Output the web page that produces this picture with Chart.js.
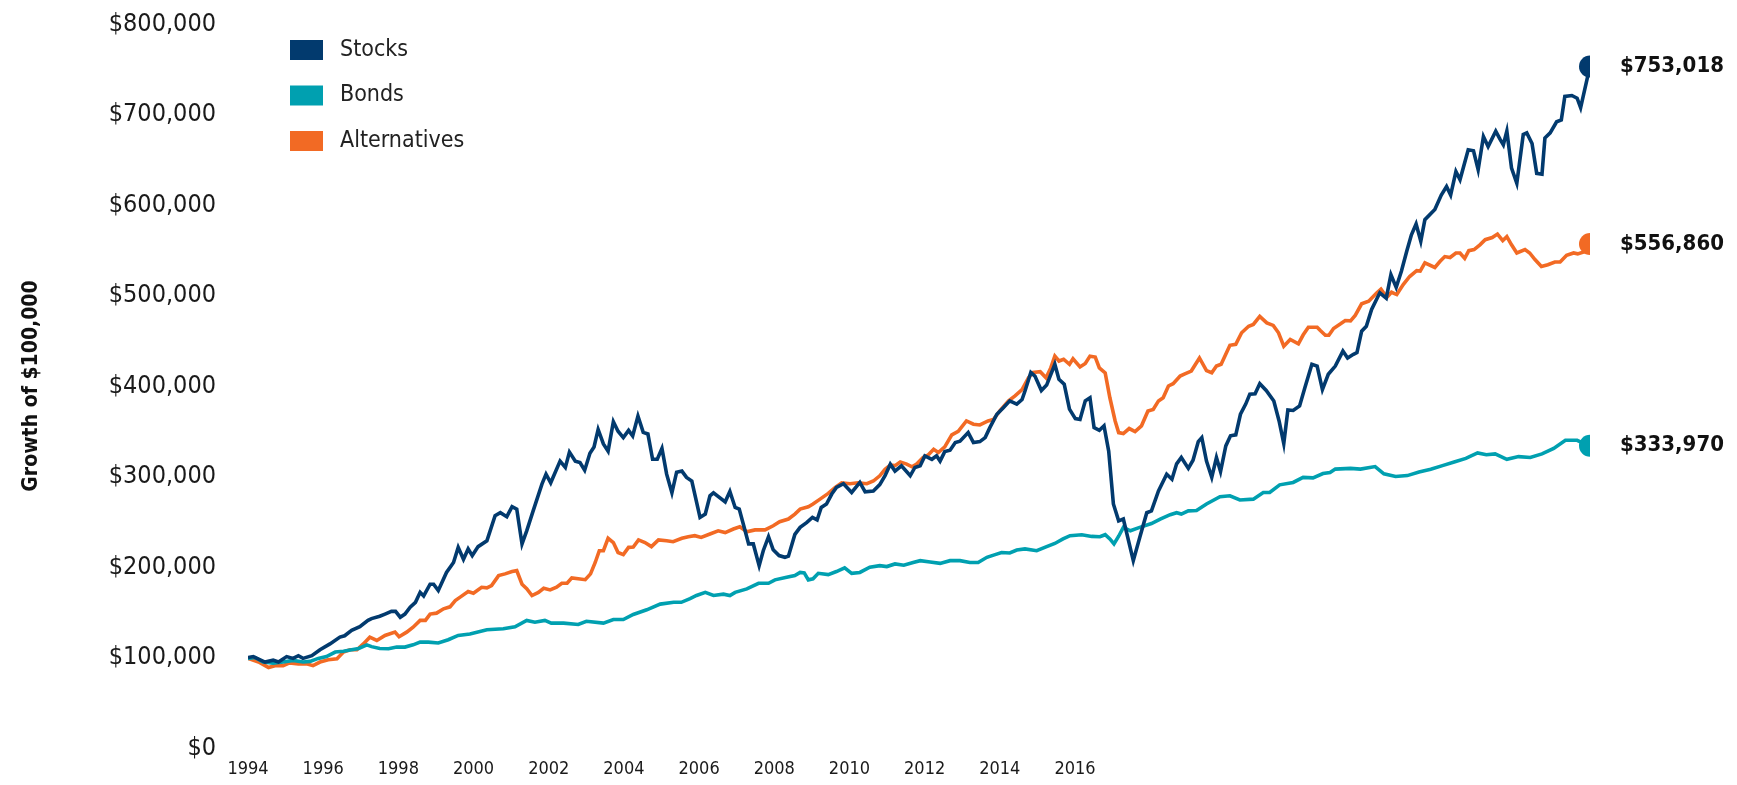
<!DOCTYPE html>
<html>
<head>
<meta charset="utf-8">
<script src="https://cdn.jsdelivr.net/npm/chart.js@4.4.0/dist/chart.umd.min.js"></script>
<style>
  html, body { margin: 0; padding: 0; background: #fff; }
</style>
</head>
<body>
<canvas id="grafico" width="1737" height="785"></canvas>
<script>
// Series names, colours and end labels
var seriesNames = ['Stocks', 'Bonds', 'Alternatives'];
var seriesColors = ['#023a6e', '#00a0b0', '#f26a24'];
var endLabels = ['$753,018', '$333,970', '$556,860'];

// Year labels shown under the chart
var tickYears = [1994, 1996, 1998, 2000, 2002, 2004, 2006, 2008, 2010, 2012, 2014, 2016];

// Stocks: time (decimal year) and growth of $100,000 (in $ thousands)
var stocksYears = [1994.00,1994.09,1994.29,1994.43,1994.52,1994.66,1994.77,1994.86,1994.94,1995.09,1995.23,1995.40,1995.57,1995.65,1995.77,1995.91,1996.05,1996.11,1996.25,1996.34,1996.45,1996.52,1996.60,1996.68,1996.77,1996.86,1996.94,1997.00,1997.11,1997.17,1997.25,1997.39,1997.51,1997.59,1997.68,1997.76,1997.83,1997.93,1998.08,1998.22,1998.31,1998.42,1998.51,1998.59,1998.68,1998.76,1998.87,1999.02,1999.09,1999.17,1999.33,1999.42,1999.49,1999.59,1999.67,1999.75,1999.84,1999.91,1999.98,2000.07,2000.15,2000.24,2000.32,2000.41,2000.50,2000.57,2000.66,2000.75,2000.83,2000.91,2000.99,2001.07,2001.15,2001.24,2001.32,2001.41,2001.49,2001.58,2001.72,2001.81,2001.89,2001.95,2002.15,2002.23,2002.32,2002.39,2002.49,2002.55,2002.63,2002.73,2002.80,2002.89,2002.97,2003.07,2003.17,2003.23,2003.34,2003.43,2003.54,2003.64,2003.72,2003.79,2003.88,2003.97,2004.05,2004.17,2004.31,2004.45,2004.54,2004.68,2004.79,2004.88,2004.97,2005.05,2005.16,2005.31,2005.39,2005.48,2005.56,2005.68,2005.76,2005.82,2005.90,2005.99,2006.08,2006.16,2006.30,2006.39,2006.50,2006.59,2006.67,2006.79,2006.90,2007.01,2007.13,2007.22,2007.27,2007.37,2007.44,2007.55,2007.64,2007.78,2007.85,2007.94,2008.03,2008.13,2008.21,2008.30,2008.38,2008.45,2008.54,2008.62,2008.70,2008.78,2008.87,2008.95,2009.12,2009.23,2009.35,2009.43,2009.55,2009.69,2009.78,2009.86,2009.94,2010.06,2010.14,2010.23,2010.29,2010.37,2010.46,2010.54,2010.61,2010.70,2010.78,2010.87,2010.95,2011.04,2011.11,2011.20,2011.28,2011.39,2011.52,2011.61,2011.69,2011.76,2011.85,2011.96,2012.05,2012.17,2012.26,2012.35,2012.45,2012.57,2012.70,2012.78,2012.88,2012.94,2013.02,2013.10,2013.19,2013.33,2013.44,2013.52,2013.61,2013.70,2013.79,2013.87,2013.95,2014.03,2014.10,2014.27,2014.38,2014.47,2014.54,2014.63,2014.70,2014.84,2014.93,2015.01,2015.10,2015.18,2015.31,2015.38,2015.44,2015.50,2015.58,2015.67,2015.78,2015.84,2015.93,2016.01,2016.10,2016.15,2016.24,2016.35,2016.43,2016.49,2016.61,2016.70,2016.76,2016.87,2016.92];
var stocksValues = [100,101,95,97,95,101,99,102,99,102,108.6,115,122.5,124,130,134,141,143,145.6,148,151,151,144.5,148,155.6,161,172,168,181,181,174,194,205,221.7,208.5,220,212.6,222.5,229,256.7,260,255.6,266.6,264,225.5,240,262,291.6,302.6,293,317,310,327,317,315.5,307,325.8,332.7,352,336,328,360.6,350,343,351,344.8,366.8,348.8,347,319,319,331,302.6,282,304.8,306,299,295,254.8,258.5,278.7,282,272,283.5,265.8,264,240,225.5,225.5,201.5,218,233.5,219,212.6,210.7,212,236,243.8,249,254.8,252,265.8,269.6,280.6,287.9,292,282.4,293.4,283,284,291,300.8,313.6,306,311.8,300.8,310,311.8,322.8,319,322.8,317,327.5,329,337.5,339,348.5,337.5,338.6,343,354,368.8,376,383.6,380,385,394.5,415,411,395,401,424,407.5,402,374.5,364,363,383.6,387,354,351,356,328,269.6,251,253,207,232.7,260,262,284,302.6,297,314,321,309,318,338.6,343,317,299,321,305.5,333.8,345,346,368.8,380,391,391.5,402.5,395,383.5,361.4,336.4,373.5,373,378,398,424,422,396,413,422,438.6,431,435,437,460.6,466,484.6,503,497,523,509,527,548.8,567,579,560,583.8,595,611,620.5,611,637,628,661,660,639,675.6,664.6,681.6,673,666.5,681.6,640.7,624,677.9,679.7,668,635,634,674,679.7,692,694,720,721,718,707.6,739,753.018];

// Bonds
var bondsYears = [1994.00,1994.12,1994.26,1994.43,1994.60,1994.77,1994.94,1995.06,1995.20,1995.34,1995.49,1995.63,1995.77,1995.89,1996.03,1996.11,1996.25,1996.40,1996.54,1996.68,1996.82,1996.94,1997.08,1997.25,1997.42,1997.59,1997.79,1998.08,1998.36,1998.56,1998.76,1998.90,1999.07,1999.18,1999.39,1999.64,1999.78,2000.07,2000.24,2000.41,2000.58,2000.81,2001.04,2001.27,2001.40,2001.55,2001.66,2001.81,2001.95,2002.12,2002.23,2002.32,2002.52,2002.72,2002.89,2003.00,2003.20,2003.34,2003.43,2003.50,2003.57,2003.65,2003.74,2003.91,2004.05,2004.19,2004.31,2004.45,2004.62,2004.79,2004.91,2005.05,2005.20,2005.36,2005.48,2005.65,2005.82,2005.99,2006.16,2006.33,2006.47,2006.62,2006.76,2006.87,2007.01,2007.13,2007.27,2007.47,2007.64,2007.78,2007.92,2008.04,2008.24,2008.41,2008.55,2008.64,2008.72,2008.79,2008.87,2008.95,2009.07,2009.23,2009.43,2009.58,2009.75,2009.86,2009.94,2010.06,2010.20,2010.37,2010.60,2010.77,2010.94,2011.17,2011.34,2011.45,2011.62,2011.85,2012.02,2012.19,2012.36,2012.48,2012.57,2012.83,2013.00,2013.25,2013.40,2013.60,2013.80,2014.00,2014.20,2014.40,2014.60,2014.80,2015.00,2015.15,2015.30,2015.50,2015.70,2015.90,2016.10,2016.30,2016.50,2016.70,2016.80,2016.92];
var bondsValues = [99,100,95,93.8,95,96.8,95,95.7,99,101,106,107,108.6,110,114,112,110,109.7,111.5,111.5,114,117,117,116,119.6,124.4,126,130.6,131.7,134,141,139,141,138,138,136.5,140,138,142,142,147.5,152.7,159,161,161,165,168.5,172,168.5,170,168.5,172,175.8,182,182,185.8,188.6,190.5,194,193.5,185.8,187,193,191.6,195,199,193,194,199.7,201.5,200.5,203.4,202,205,207,205.5,204,207,207,205,205,210.7,213.7,216,215.5,218.8,220,218,222.5,226,231,234.6,235.7,233.8,233.5,235.7,231,225.5,234,243.8,240,243.8,248,253,257.8,260,258.5,262,262.5,269.6,277.6,278.7,274,275,282.4,282.4,290.8,293.4,299,298.5,303.3,304.5,308.2,309,308.2,311,303,300,301,305,308,312,316,320,326,324,325,319,322,321,325,331,340,340,337,333.97];

// Alternatives
var altYears = [1994.00,1994.18,1994.35,1994.46,1994.60,1994.71,1994.86,1995.00,1995.11,1995.23,1995.37,1995.52,1995.63,1995.74,1995.86,1995.97,1996.08,1996.20,1996.34,1996.51,1996.58,1996.71,1996.82,1996.94,1997.03,1997.11,1997.22,1997.34,1997.45,1997.54,1997.63,1997.76,1997.85,1997.99,1998.08,1998.16,1998.28,1998.39,1998.51,1998.59,1998.68,1998.76,1998.85,1998.96,1999.05,1999.16,1999.27,1999.36,1999.45,1999.53,1999.64,1999.76,1999.85,1999.93,2000.00,2000.07,2000.15,2000.24,2000.32,2000.41,2000.50,2000.58,2000.67,2000.78,2000.89,2001.01,2001.15,2001.26,2001.41,2001.52,2001.63,2001.74,2001.89,2002.03,2002.15,2002.29,2002.40,2002.52,2002.66,2002.83,2002.97,2003.08,2003.23,2003.34,2003.43,2003.57,2003.65,2003.77,2003.91,2004.03,2004.14,2004.28,2004.42,2004.57,2004.68,2004.79,2004.88,2004.97,2005.05,2005.14,2005.25,2005.34,2005.42,2005.53,2005.62,2005.71,2005.79,2005.90,2006.02,2006.13,2006.27,2006.39,2006.50,2006.64,2006.73,2006.84,2006.99,2007.10,2007.22,2007.33,2007.41,2007.53,2007.63,2007.71,2007.78,2007.85,2007.93,2008.03,2008.09,2008.21,2008.30,2008.38,2008.47,2008.54,2008.64,2008.72,2008.81,2008.87,2008.95,2009.05,2009.15,2009.26,2009.37,2009.46,2009.55,2009.63,2009.72,2009.80,2009.92,2010.01,2010.11,2010.25,2010.37,2010.46,2010.54,2010.62,2010.77,2010.87,2010.97,2011.09,2011.17,2011.28,2011.40,2011.51,2011.60,2011.69,2011.80,2011.94,2012.02,2012.11,2012.26,2012.31,2012.40,2012.46,2012.54,2012.66,2012.74,2012.83,2012.91,2013.02,2013.14,2013.28,2013.35,2013.45,2013.53,2013.62,2013.73,2013.84,2013.96,2014.02,2014.10,2014.27,2014.36,2014.44,2014.53,2014.63,2014.70,2014.78,2014.85,2014.94,2015.04,2015.13,2015.25,2015.34,2015.43,2015.50,2015.58,2015.67,2015.81,2015.89,2015.98,2016.09,2016.20,2016.32,2016.41,2016.52,2016.64,2016.71,2016.85,2016.92];
var altValues = [99,95,89,91,91,94,93,93,91,95,97.5,98.7,106,108.6,108.6,115,122.5,118.8,124.4,128,123,128,133.5,141,141,148,149,153.8,156,163,167,173,171,177.6,177,179.5,190.5,192.4,195,196,181,176,168.5,172,176.5,174.7,177.6,182,182,188,187,186,192.4,205,218,218,231.7,227,216,213.7,221.7,222,229.9,227,222.5,230,229,228,231.7,233.5,234.6,232.7,236.5,240,238,242,244.5,239,241,241,245.6,250,253,258.5,264,266.6,269.6,275,281.3,287.9,293,292,293,292,295,300.8,308,312.6,312,316,313.7,310.7,313.7,321,324,330,326.5,332.7,346,350,361.4,357.8,357,361.4,363,372.4,383.5,389,396,409,415,415.8,409,420,433,427.6,429.6,424,430,421,424.8,433,432,420,414.4,387,361.4,348.5,347.4,353,349.6,356,372.4,374,383.5,387,400,402.5,411,413.6,416.5,431,417,414.6,422,424,445,446,458.8,466,468,477,469.8,467,458.8,444,451.5,446.6,456.3,465,465,461.5,456,456,463.6,468.7,472.4,472,478,490.8,493.7,503,507,498,503.6,501,512,521,527.5,527,536,531,537.8,543,542,547,547,541,549.6,550.7,556,561.7,564,567.9,560.6,565,556,547,550.7,547,539.7,532,534,537,537,544.4,547,546,548.8,556.86];

function pontos(anos, valores) {
    return anos.map(function(a, i) { return { x: a, y: valores[i] * 1000 }; });
}

function serie(i, anos, valores) {
    var ultimo = anos.length - 1;
    return {
        label: seriesNames[i],
        data: pontos(anos, valores),
        borderColor: seriesColors[i],
        backgroundColor: seriesColors[i],
        borderWidth: 3.6,
        tension: 0,
        pointRadius: function(c) { return c.dataIndex === ultimo ? 11 : 0; },
        pointHoverRadius: function(c) { return c.dataIndex === ultimo ? 11 : 0; },
        pointBorderWidth: 0,
        fill: false
    };
}

var fonte = '"DejaVu Sans Condensed", "Liberation Sans Narrow", "DejaVu Sans", sans-serif';

// Legend and end-of-line labels
var rotulos = {
    id: 'rotulos',
    afterDatasetsDraw: function(chart) {
        var ctx = chart.ctx;
        ctx.save();
        ctx.textBaseline = 'middle';
        ctx.textAlign = 'left';

        ctx.font = 'bold 22px ' + fonte;
        ctx.fillStyle = '#111';
        chart.data.datasets.forEach(function(ds, i) {
            var meta = chart.getDatasetMeta(i);
            var pt = meta.data[meta.data.length - 1];
            ctx.fillText(endLabels[i], pt.x + 30, pt.y);
        });

        ctx.font = '23px ' + fonte;
        [0, 1, 2].forEach(function(i, k) {
            var y = 40 + k * 45.5;
            ctx.fillStyle = seriesColors[i];
            ctx.fillRect(290, y, 33, 20);
            ctx.fillStyle = '#222';
            ctx.fillText(seriesNames[i], 340, y + 10);
        });
        ctx.restore();
    }
};

var ctx = document.getElementById('grafico').getContext('2d');
var grafico = new Chart(ctx, {
    type: 'line',
    data: {
        datasets: [
            serie(0, stocksYears, stocksValues),
            serie(1, bondsYears, bondsValues),
            serie(2, altYears, altValues)
        ]
    },
    options: {
        responsive: false,
        animation: false,
        layout: { padding: { top: 24, right: 147, bottom: 5, left: 0 } },
        plugins: {
            legend: { display: false },
            tooltip: { enabled: false }
        },
        scales: {
            x: {
                type: 'linear',
                display: false,
                min: 1994.0,
                max: 2016.92
            },
            anos: {
                type: 'linear',
                position: 'bottom',
                min: 1994,
                max: 2029.7,
                grid: { display: false, drawTicks: false },
                border: { display: false },
                afterBuildTicks: function(scale) {
                    scale.ticks = tickYears.map(function(a) { return { value: a }; });
                },
                afterFit: function(scale) { scale.height = 32; },
                ticks: {
                    padding: 11,
                    autoSkip: false,
                    maxRotation: 0,
                    color: '#1a1a1a',
                    font: { family: fonte, size: 18 },
                    callback: function(v) { return String(v); }
                }
            },
            y: {
                min: 0,
                max: 800000,
                grid: { display: false, drawTicks: false },
                border: { display: false },
                afterFit: function(scale) {
                    scale.width = 248;
                    scale.paddingTop = 0;
                    scale.paddingBottom = 0;
                },
                ticks: {
                    stepSize: 100000,
                    padding: 32,
                    color: '#1a1a1a',
                    font: { family: fonte, size: 25 },
                    callback: function(v) { return '$' + v.toLocaleString('en-US'); }
                },
                title: {
                    display: true,
                    text: 'Growth of $100,000',
                    color: '#111',
                    font: { family: fonte, size: 21, weight: 'bold' },
                    padding: { top: 19, bottom: 0 }
                }
            }
        }
    },
    plugins: [rotulos]
});
</script>
</body>
</html>
